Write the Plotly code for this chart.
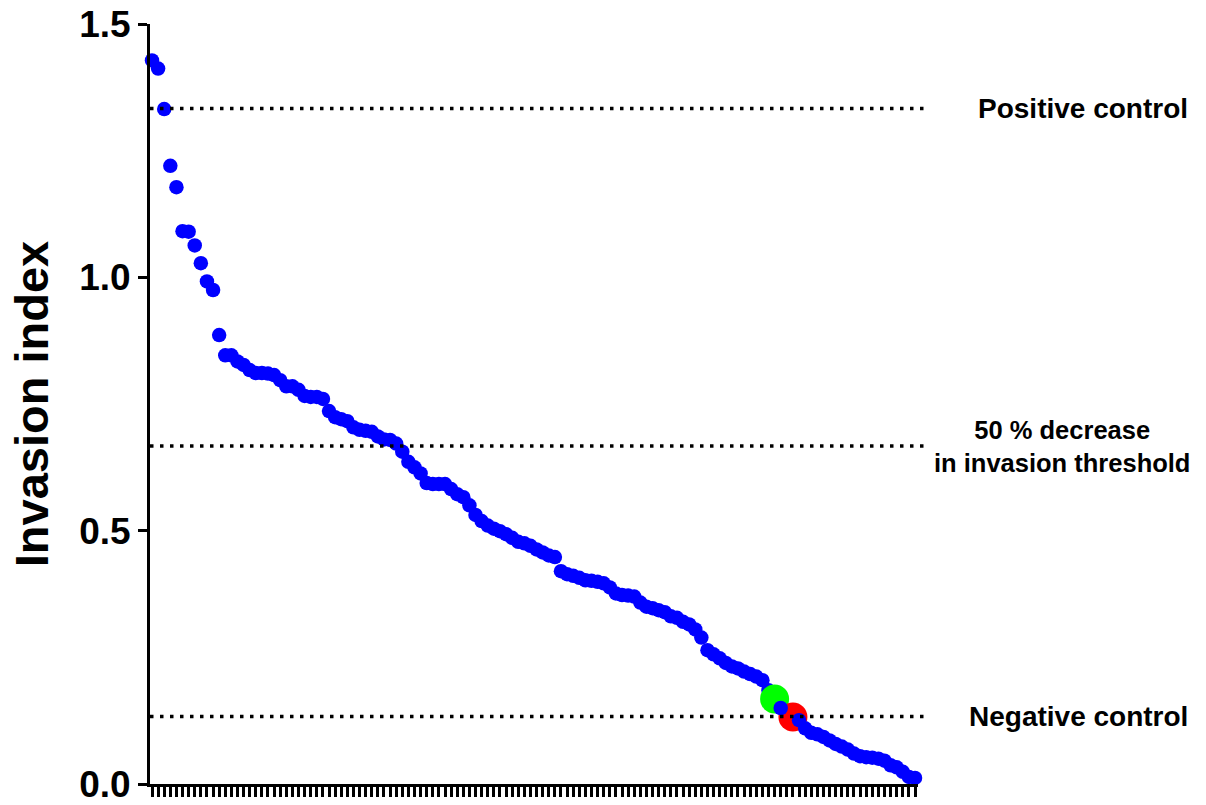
import plotly.graph_objects as go

# Invasion index per compound (sorted, one category per tick)
invasion_index = [
    1.428, 1.412, 1.332, 1.220, 1.178, 1.091, 1.090, 1.063, 1.028, 0.992,
    0.975, 0.886, 0.846, 0.846, 0.834, 0.827, 0.817, 0.811, 0.811, 0.810,
    0.807, 0.797, 0.785, 0.785, 0.778, 0.766, 0.764, 0.764, 0.760, 0.736,
    0.724, 0.720, 0.716, 0.704, 0.699, 0.697, 0.695, 0.686, 0.680, 0.679,
    0.672, 0.656, 0.636, 0.625, 0.613, 0.594, 0.592, 0.592, 0.592, 0.582,
    0.572, 0.566, 0.550, 0.531, 0.519, 0.510, 0.504, 0.499, 0.493, 0.486,
    0.478, 0.475, 0.470, 0.463, 0.457, 0.451, 0.448, 0.420, 0.414, 0.411,
    0.407, 0.402, 0.401, 0.399, 0.396, 0.388, 0.376, 0.373, 0.372, 0.370,
    0.358, 0.350, 0.347, 0.343, 0.339, 0.331, 0.328, 0.320, 0.315, 0.305,
    0.289, 0.264, 0.256, 0.248, 0.239, 0.232, 0.228, 0.222, 0.217, 0.212,
    0.205, 0.185, 0.168, 0.150, 0.140, 0.132, 0.126, 0.110, 0.101, 0.098,
    0.093, 0.086, 0.079, 0.074, 0.068, 0.060, 0.055, 0.053, 0.052, 0.050,
    0.046, 0.037, 0.033, 0.024, 0.014, 0.012,
]
green_index = 102
red_index = 105
hidden_under = [101, 104]

positive_control = 1.333
half_threshold = 0.667
negative_control = 0.133

y_tick_vals = [0.0, 0.5, 1.0, 1.5]
y_tick_text = ["0.0", "0.5", "1.0", "1.5"]

n = len(invasion_index)
xs = list(range(n))
special = set([green_index, red_index] + hidden_under)

fig = go.Figure()
# points hidden beneath the highlighted markers
fig.add_trace(go.Scatter(
    x=hidden_under, y=[invasion_index[i] for i in hidden_under], mode="markers",
    marker=dict(color="#0000FF", size=14.5), cliponaxis=False, showlegend=False))
fig.add_trace(go.Scatter(
    x=[green_index], y=[invasion_index[green_index]], mode="markers",
    marker=dict(color="#00FF00", size=29), cliponaxis=False, showlegend=False))
fig.add_trace(go.Scatter(
    x=[red_index], y=[invasion_index[red_index]], mode="markers",
    marker=dict(color="#FF0000", size=29), cliponaxis=False, showlegend=False))
bx = [i for i in xs if i not in special]
fig.add_trace(go.Scatter(
    x=bx, y=[invasion_index[i] for i in bx], mode="markers",
    marker=dict(color="#0000FF", size=14.5), cliponaxis=False, showlegend=False))

for yv in [positive_control, half_threshold, negative_control]:
    fig.add_shape(type="line", xref="paper", yref="y", x0=0, x1=1.01, y0=yv, y1=yv,
                  line=dict(color="black", width=3.5, dash="3.5px,6.5px"))

W, H = 1206, 805
L, R, T, B = 150, 288, 24, 21
pw = W - L - R

def px(xpix):
    return (xpix - L) / pw

bold = dict(family="Liberation Sans, Arial", color="black", weight="bold")
fig.add_annotation(x=px(1190), xref="paper", y=positive_control, yref="y", text="Positive control",
                   showarrow=False, xanchor="right", font=dict(size=28, **bold))
fig.add_annotation(x=px(1190), xref="paper", y=negative_control, yref="y", text="Negative control",
                   showarrow=False, xanchor="right", font=dict(size=28, **bold))
fig.add_annotation(x=px(1062), xref="paper", y=half_threshold, yref="y",
                   text="50 % decrease<br>in invasion threshold",
                   showarrow=False, xanchor="center", font=dict(size=25.5, **bold))

fig.update_layout(
    width=W, height=H,
    margin=dict(l=L, r=R, t=T, b=B),
    paper_bgcolor="white", plot_bgcolor="white",
    xaxis=dict(range=[-0.33, n - 1 + 0.49], showgrid=False, zeroline=False,
               showline=True, linecolor="black", linewidth=3, automargin=False,
               tickmode="array", tickvals=xs, showticklabels=False,
               ticks="outside", ticklen=10, tickwidth=3, tickcolor="black"),
    yaxis=dict(range=[0, 1.5], showgrid=False, zeroline=False,
               showline=True, linecolor="black", linewidth=3, automargin=False,
               tickmode="array", tickvals=y_tick_vals, ticktext=y_tick_text,
               ticks="outside", ticklen=9, tickwidth=3, tickcolor="black",
               ticklabeloverflow="allow",
               tickfont=dict(size=37, **bold),
               title=dict(text="Invasion index", font=dict(size=47, **bold), standoff=16)),
)

fig.write_html("out.html", config={"displayModeBar": False},
               post_script="document.body.style.margin='0';")
